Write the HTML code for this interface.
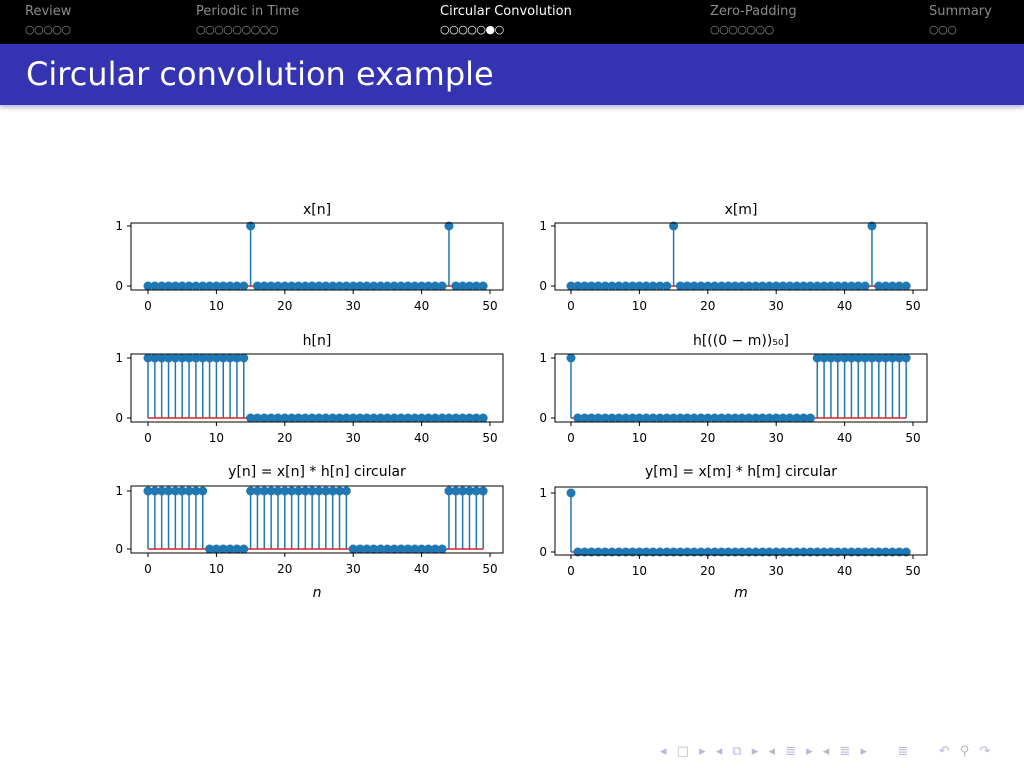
<!DOCTYPE html>
<html><head><meta charset="utf-8"><style>
body{margin:0;width:1024px;height:768px;overflow:hidden;background:#fff;font-family:"DejaVu Sans","Liberation Sans",sans-serif;}
#nav{position:absolute;left:0;top:0;width:1024px;height:44px;background:#000;}
.sec{position:absolute;top:3px;font-size:13px;color:#8a8a8a;line-height:17px;}
.dots{position:absolute;top:23px;font-size:11px;color:#8a8a8a;letter-spacing:-0.5px;line-height:14px;}
#title{position:absolute;left:0;top:44px;width:1024px;height:61px;background:#3434b2;box-shadow:0 3px 4px rgba(60,60,180,0.35);}
#title span{position:absolute;left:26px;top:10px;color:#fff;font-size:32px;line-height:40px;}
svg{position:absolute;left:0;top:0;}
</style></head><body>
<div id="nav">
 <div class="sec" style="left:25px">Review</div>
 <div class="dots" style="left:25px">○○○○○</div>
 <div class="sec" style="left:196px">Periodic in Time</div>
 <div class="dots" style="left:196px">○○○○○○○○○</div>
 <div class="sec" style="left:440px;color:#fff">Circular Convolution</div>
 <div class="dots" style="left:440px;color:#fff">○○○○○●○</div>
 <div class="sec" style="left:710px">Zero-Padding</div>
 <div class="dots" style="left:710px">○○○○○○○</div>
 <div class="sec" style="left:929px">Summary</div>
 <div class="dots" style="left:929px">○○○</div>
</div>
<div id="title"><span>Circular convolution example</span></div>
<svg id="chart" width="1024" height="768"></svg>
<div style="position:absolute;left:660px;top:744px;font-size:13px;color:#b8b8d8;word-spacing:6px">◂ □ ▸ ◂ ⧉ ▸ ◂ ≣ ▸ ◂ ≣ ▸ &nbsp; ≣ &nbsp; ↶ ⚲ ↷</div>
<script>
const N = 50;
const xVals = [15, 44];             // indices where x = 1
const hOnes = [[0, 14]];            // ranges where h = 1
const hFlipOnes = [[0, 0], [36, 49]];
const yOnes = [[0, 8], [15, 29], [44, 49]];
const ymOnes = [[0, 0]];
const xTicks = [0, 10, 20, 30, 40, 50];
const yTicks = [0, 1];
const titles = ["x[n]", "x[m]", "h[n]", "h[((0 − m))₅₀]", "y[n] = x[n] * h[n] circular", "y[m] = x[m] * h[m] circular"];
const xlabels = ["n", "m"];

function seqFromPoints(pts){const a=new Array(N).fill(0);pts.forEach(p=>a[p]=1);return a;}
function seqFromRanges(r){const a=new Array(N).fill(0);r.forEach(([s,e])=>{for(let i=s;i<=e;i++)a[i]=1;});return a;}
const series = [seqFromPoints(xVals), seqFromPoints(xVals), seqFromRanges(hOnes), seqFromRanges(hFlipOnes), seqFromRanges(yOnes), seqFromRanges(ymOnes)];

const svg = document.getElementById('chart');
const NS = 'http://www.w3.org/2000/svg';
function mk(tag, attrs, parent){const e=document.createElementNS(NS,tag);for(const k in attrs)e.setAttribute(k,attrs[k]);(parent||svg).appendChild(e);return e;}

const cols = [{L:131,R:503,x0:148,x50:490},{L:555,R:927,x0:571,x50:913}];
const rows = [{T:223,B:290,y1:226,y0:286,ty:214},{T:354,B:422,y1:358,y0:418,ty:345},{T:486,B:553,y1:491,y0:549,ty:476}];

for(let p=0;p<6;p++){
  const c = cols[p%2];
  const row = rows[Math.floor(p/2)];
  let y1 = row.y1, y0 = row.y0, T=row.T, B=row.B;
  if(p===5){T=487;B=555;y1=493;y0=552;}
  const sx = v => c.x0 + (c.x50 - c.x0) * v / 50;
  const sy = v => y0 + (y1 - y0) * v;
  const g = mk('g', {});
  
  
  const t = mk('text', {x:(c.L+c.R)/2, y:row.ty, 'text-anchor':'middle', 'font-size':14, fill:'#000'}, g);
  t.textContent = titles[p];
  
  
  const vals = series[p];
  vals.forEach((v,i)=>{
    if(v!==0){
      const l = mk('line',{x1:sx(i),x2:sx(i),y1:sy(0),y2:sy(v),stroke:'#1f77b4','stroke-width':1.5},g);
      
      
    }
  });
  const bl = mk('line',{x1:sx(0),x2:sx(N-1),y1:sy(0),y2:sy(0),stroke:'#d62728','stroke-width':1.5},g);
  
  
  vals.forEach((v,i)=>{
    const m = mk('circle',{cx:sx(i),cy:sy(v),r:4.5,fill:'#1f77b4'},g);
    
    
  });
  const fr = mk('rect',{x:c.L,y:T,width:c.R-c.L,height:B-T,fill:'none',stroke:'#000','stroke-width':1},g);
  
  
  xTicks.forEach(tv=>{
    mk('line',{x1:sx(tv),x2:sx(tv),y1:B,y2:B+4,stroke:'#000','stroke-width':1},g);
    const tl = mk('text',{x:sx(tv),y:B+20,'text-anchor':'middle','font-size':12,fill:'#000'},g);
    tl.textContent = tv;
    
    
  });
  yTicks.forEach(tv=>{
    mk('line',{x1:c.L-4,x2:c.L,y1:sy(tv),y2:sy(tv),stroke:'#000','stroke-width':1},g);
    const tl = mk('text',{x:c.L-8,y:sy(tv)+4,'text-anchor':'end','font-size':12,fill:'#000'},g);
    tl.textContent = tv;
    
    
  });
  if(p>=4){
    const xl = mk('text',{x:(c.L+c.R)/2,y:597,'text-anchor':'middle','font-size':14,'font-style':'italic',fill:'#000'},g);
    xl.textContent = xlabels[p-4];
    
    
  }
}
</script>
</body></html>
